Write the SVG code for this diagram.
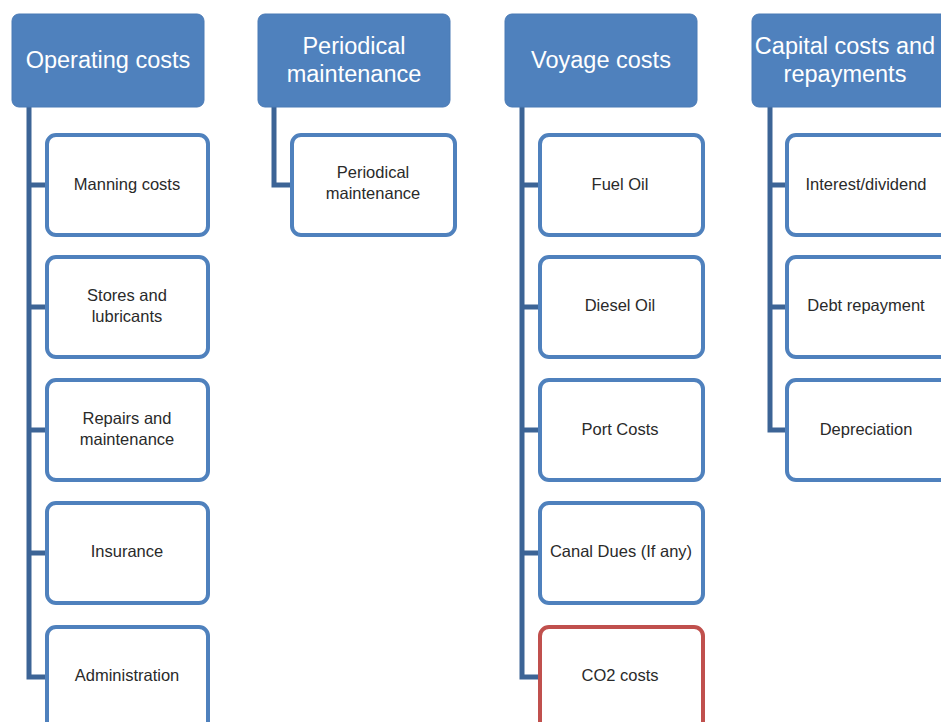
<svg xmlns="http://www.w3.org/2000/svg" width="941" height="722" viewBox="0 0 941 722">
<style>
.hdr{fill:#4F81BD;stroke:#4A7AB5;stroke-width:1}
.ht{fill:#fff;font-family:"Liberation Sans",Arial,sans-serif;font-size:23.5px;text-anchor:middle}
.box{fill:#fff;stroke:#4F81BD;stroke-width:4}
.red{fill:#fff;stroke:#C0504D;stroke-width:4}
.ct{fill:#2a2a2a;font-family:"Liberation Sans",Arial,sans-serif;font-size:16.5px;text-anchor:middle}
.con{fill:none;stroke:#3C6496;stroke-width:5;stroke-linejoin:miter}
</style>
<rect width="941" height="722" fill="#fff"/>
<g id="connectors">
<path class="con" d="M29 107 V677 H47 M29 185 H47 M29 307 H47 M29 430 H47 M29 553 H47"/>
<path class="con" d="M274 107 V185 H292"/>
<path class="con" d="M522 107 V677 H540 M522 185 H540 M522 307 H540 M522 430 H540 M522 553 H540"/>
<path class="con" d="M770 107 V430 H787 M770 185 H787 M770 307 H787"/>
</g>
<g id="h1"><rect class="hdr" x="12" y="14" width="192" height="93" rx="7"/><text class="ht" x="108" y="68">Operating costs</text></g>
<g id="h2"><rect class="hdr" x="258" y="14" width="192" height="93" rx="7"/><text class="ht" x="354" y="54">Periodical</text><text class="ht" x="354" y="82">maintenance</text></g>
<g id="h3"><rect class="hdr" x="505" y="14" width="192" height="93" rx="7"/><text class="ht" x="601" y="68">Voyage costs</text></g>
<g id="h4"><rect class="hdr" x="752" y="14" width="200" height="93" rx="7"/><text class="ht" x="845" y="54">Capital costs and</text><text class="ht" x="845" y="82">repayments</text></g>

<g id="c1"><rect class="box" x="47" y="135" width="161" height="100" rx="9"/><text class="ct" x="127" y="190">Manning costs</text></g>
<g id="c2"><rect class="box" x="47" y="257" width="161" height="100" rx="9"/><text class="ct" x="127" y="301">Stores and</text><text class="ct" x="127" y="322">lubricants</text></g>
<g id="c3"><rect class="box" x="47" y="380" width="161" height="100" rx="9"/><text class="ct" x="127" y="424">Repairs and</text><text class="ct" x="127" y="445">maintenance</text></g>
<g id="c4"><rect class="box" x="47" y="503" width="161" height="100" rx="9"/><text class="ct" x="127" y="557">Insurance</text></g>
<g id="c5"><rect class="box" x="47" y="627" width="161" height="110" rx="9"/><text class="ct" x="127" y="681">Administration</text></g>

<g id="p1"><rect class="box" x="292" y="135" width="163" height="100" rx="9"/><text class="ct" x="373" y="178">Periodical</text><text class="ct" x="373" y="199">maintenance</text></g>

<g id="v1"><rect class="box" x="540" y="135" width="163" height="100" rx="9"/><text class="ct" x="620" y="190">Fuel Oil</text></g>
<g id="v2"><rect class="box" x="540" y="257" width="163" height="100" rx="9"/><text class="ct" x="620" y="311">Diesel Oil</text></g>
<g id="v3"><rect class="box" x="540" y="380" width="163" height="100" rx="9"/><text class="ct" x="620" y="435">Port Costs</text></g>
<g id="v4"><rect class="box" x="540" y="503" width="163" height="100" rx="9"/><text class="ct" x="621" y="557">Canal Dues (If any)</text></g>
<g id="v5"><rect class="red" x="540" y="627" width="163" height="110" rx="9"/><text class="ct" x="620" y="681">CO2 costs</text></g>

<g id="k1"><rect class="box" x="787" y="135" width="170" height="100" rx="9"/><text class="ct" x="866" y="190">Interest/dividend</text></g>
<g id="k2"><rect class="box" x="787" y="257" width="170" height="100" rx="9"/><text class="ct" x="866" y="311">Debt repayment</text></g>
<g id="k3"><rect class="box" x="787" y="380" width="170" height="100" rx="9"/><text class="ct" x="866" y="435">Depreciation</text></g>
</svg>
